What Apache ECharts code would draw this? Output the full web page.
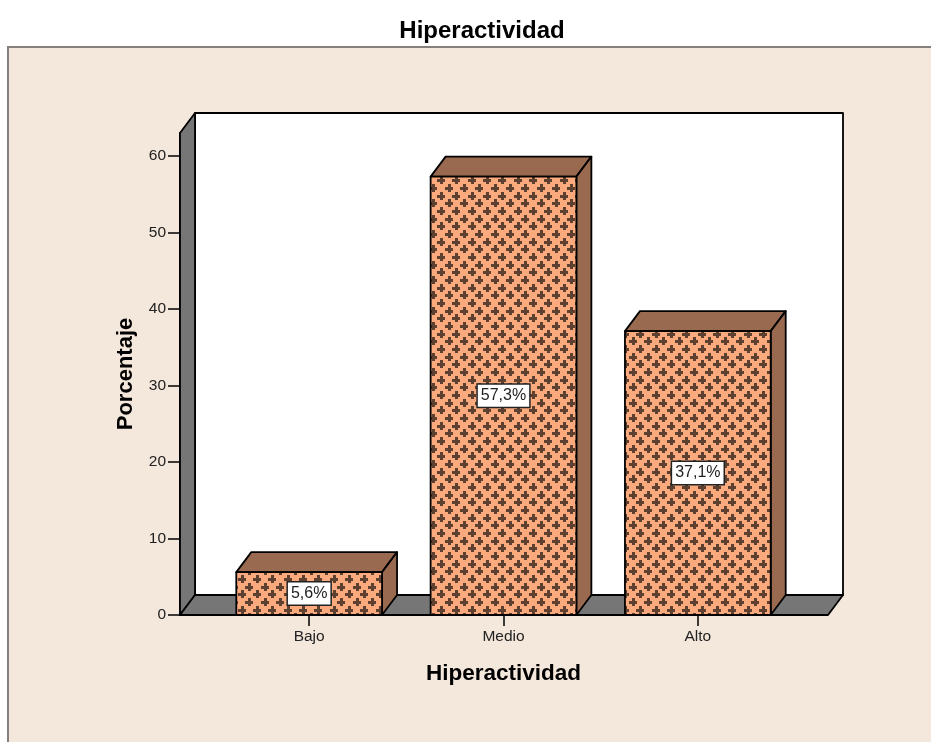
<!DOCTYPE html>
<html>
<head>
<meta charset="utf-8">
<style>html,body{margin:0;padding:0;background:#fff}#c{width:931px;height:742px}</style>
<script src="https://cdn.jsdelivr.net/npm/echarts@6/dist/echarts.min.js"></script>
</head>
<body>
<div id="c"></div>
<script>
const categories = ['Bajo', 'Medio', 'Alto'];
const percentages = [5.6, 57.3, 37.1];
const percentLabels = ['5,6%', '57,3%', '37,1%'];
const yTicks = [0, 10, 20, 30, 40, 50, 60];
const chartTitle = 'Hiperactividad';
const xName = 'Hiperactividad';
const yName = 'Porcentaje';

const DX = 15, DY = -20, FONT = '"Liberation Sans", Arial, sans-serif';

function makeTile() {
  const c = document.createElement('canvas');
  c.width = 46; c.height = 46;
  const g = c.getContext('2d');
  g.fillStyle = '#fbaa7e';
  g.fillRect(0, 0, 46, 46);
  g.fillStyle = '#5e4030';
  const p = 46 / 3;
  for (let r = -1; r < 7; r++) {
    for (let k = -1; k < 5; k++) {
      const cx = Math.round(k * p + (r % 2 ? p / 2 : 0) + 4);
      const cy = Math.round(r * p / 2 + 4);
      g.fillRect(cx - 4, cy - 1, 8, 3);
      g.fillRect(cx - 1, cy - 4, 3, 8);
    }
  }
  return c;
}
const pattern = { image: makeTile(), repeat: 'repeat' };

const chart = echarts.init(document.getElementById('c'), null, { renderer: 'canvas' });
const edge = { stroke: '#000', lineWidth: 1.8, lineJoin: 'round' };

chart.setOption({
  animation: false,
  backgroundColor: '#fff',
  graphic: [{
    type: 'rect', z: -10, silent: true,
    shape: { x: 8, y: 47, width: 960, height: 740 },
    style: { fill: '#f4e7db', stroke: '#85807b', lineWidth: 2 }
  }],
  title: {
    text: chartTitle, left: 477, top: 14, textAlign: 'center',
    textStyle: { fontFamily: FONT, fontSize: 24, fontWeight: 'bold', color: '#000' }
  },
  grid: { left: 212, right: 136, top: 133, bottom: 127 },
  xAxis: {
    type: 'category', data: categories,
    name: xName, nameLocation: 'middle', nameGap: 47,
    nameTextStyle: { fontFamily: FONT, fontSize: 22.5, fontWeight: 'bold', color: '#000' },
    axisLine: { show: false },
    axisTick: { show: true, alignWithLabel: true, length: 11, lineStyle: { color: '#000', width: 1.5 } },
    axisLabel: { fontFamily: FONT, fontSize: 15.5, color: '#222', margin: 14 },
    splitLine: { show: false }
  },
  yAxis: {
    type: 'value', min: 0, max: 63, interval: 10, offset: 32,
    name: yName, nameLocation: 'middle', nameGap: 43,
    nameTextStyle: { fontFamily: FONT, fontSize: 22, fontWeight: 'bold', color: '#000' },
    axisLine: { show: true, lineStyle: { color: '#000', width: 1.8 } },
    axisTick: { show: true, length: 12, customValues: yTicks, lineStyle: { color: '#000', width: 1.5 } },
    axisLabel: { fontFamily: FONT, fontSize: 15.5, color: '#222', margin: 14, customValues: yTicks },
    splitLine: { show: false }
  },
  series: [
    {
      type: 'custom', silent: true, z: 1,
      data: [[0, 0]],
      renderItem(params, api) {
        const cs = params.coordSys;
        const l = cs.x - 32, r = cs.x + cs.width + 33, t = cs.y, b = cs.y + cs.height;
        return {
          type: 'group',
          children: [
            { type: 'polygon', shape: { points: [[l + DX, t + DY], [r + DX, t + DY], [r + DX, b + DY], [l + DX, b + DY]] }, style: { fill: '#fff', ...edge } },
            { type: 'polygon', shape: { points: [[l, t], [l + DX, t + DY], [l + DX, b + DY], [l, b]] }, style: { fill: '#767676', ...edge } },
            { type: 'polygon', shape: { points: [[l, b], [l + DX, b + DY], [r + DX, b + DY], [r, b]] }, style: { fill: '#767676', ...edge } }
          ]
        };
      }
    },
    {
      type: 'custom', silent: true, z: 2,
      data: percentages.map((v, i) => [i, v]),
      encode: { x: 0, y: 1 },
      renderItem(params, api) {
        const i = api.value(0), v = api.value(1);
        const top = api.coord([i, v]), base = api.coord([i, 0]);
        const w = api.size([1, 0])[0] * 0.75;
        const x0 = top[0] - w / 2, x1 = top[0] + w / 2, y0 = top[1], y1 = base[1];
        return {
          type: 'group',
          children: [
            { type: 'polygon', shape: { points: [[x0, y0], [x0 + DX, y0 + DY], [x1 + DX, y0 + DY], [x1, y0]] }, style: { fill: '#9a6a50', ...edge } },
            { type: 'polygon', shape: { points: [[x1, y0], [x1 + DX, y0 + DY], [x1 + DX, y1 + DY], [x1, y1]] }, style: { fill: '#9a6a50', ...edge } },
            { type: 'rect', shape: { x: x0, y: y0, width: w, height: y1 - y0 }, style: { fill: pattern, ...edge } },
            {
              type: 'text', z2: 10,
              x: top[0], y: (y0 + y1) / 2,
              style: {
                text: percentLabels[params.dataIndex], align: 'center', verticalAlign: 'middle',
                font: '16px ' + FONT, fill: '#222', backgroundColor: '#fff',
                borderColor: '#222', borderWidth: 1.5, padding: [3, 3, 3, 3]
              }
            }
          ]
        };
      }
    },
    {
      type: 'custom', silent: true, z: 3,
      data: [[0, 0]],
      renderItem(params, api) {
        const cs = params.coordSys;
        const b = cs.y + cs.height;
        return { type: 'line', shape: { x1: cs.x - 32, y1: b, x2: cs.x + cs.width + 33, y2: b }, style: { stroke: '#000', lineWidth: 1.8 } };
      }
    }
  ]
});
</script>
</body>
</html>
